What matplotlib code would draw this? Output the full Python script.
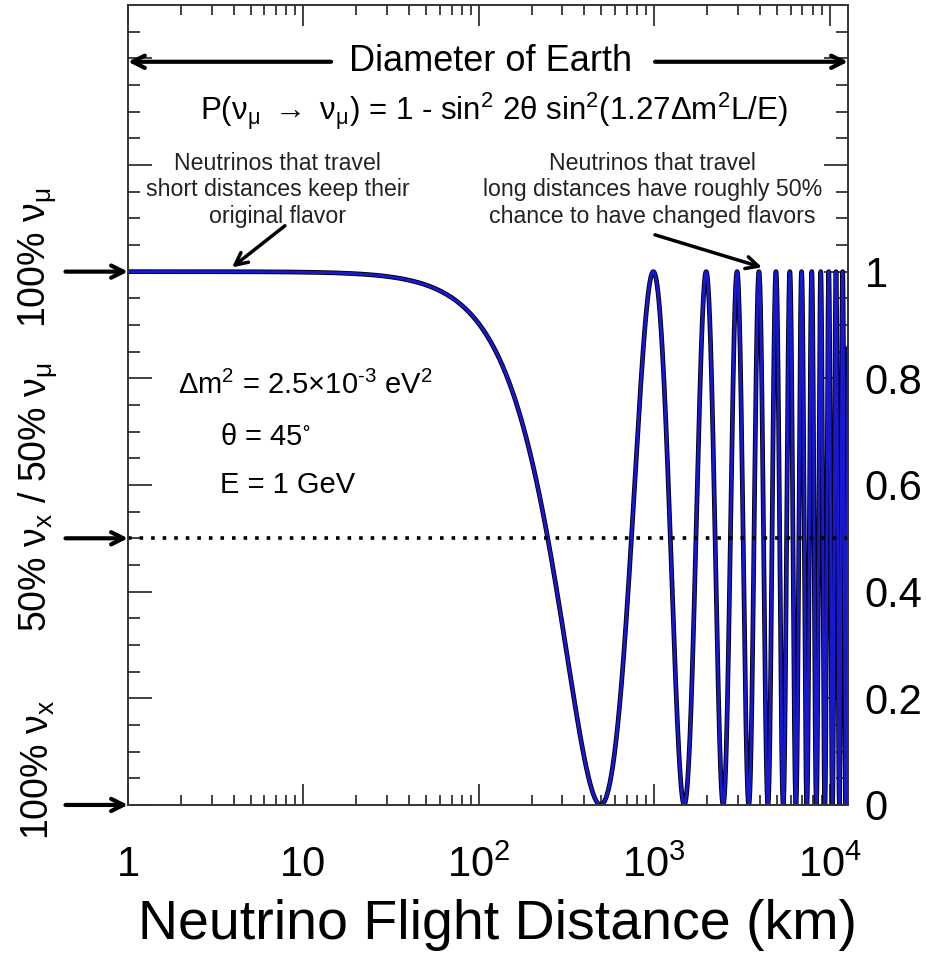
import matplotlib.pyplot as plt
import numpy as np

plt.rcParams['font.family'] = ['Liberation Sans', 'DejaVu Sans']
plt.rcParams['mathtext.fontset'] = 'custom'
plt.rcParams['mathtext.rm'] = 'Liberation Sans'
plt.rcParams['mathtext.it'] = 'Liberation Sans'
plt.rcParams['mathtext.default'] = 'regular'

# oscillation parameters printed on the chart
dm2 = 2.5e-3          # eV^2
theta_deg = 45.0      # mixing angle
energy = 1.0          # GeV
earth_diameter = 12742.0  # km

# axis ticks
x_major = [1, 10, 100, 1000, 10000]
x_labels = ['1', '10', r'$10^2$', r'$10^3$', r'$10^4$']
y_major = [0, 0.2, 0.4, 0.6, 0.8, 1.0, 1.2, 1.4]
y_labels = ['0', '0.2', '0.4', '0.6', '0.8', '1', '', '']

# flavour markers on the left
flavor_levels = [1.0, 0.5, 0.0]

# survival probability from the formula shown in the chart
L = np.logspace(0, np.log10(earth_diameter), 200000)
P = 1 - np.sin(2 * np.radians(theta_deg))**2 * np.sin(1.27 * dm2 * L / energy)**2

fig = plt.figure(figsize=(9.28, 9.56), dpi=100)
ax = fig.add_axes([0.1379, 0.158, 0.7759, 0.8368])

ax.plot(L, P, color='black', lw=3.4, solid_capstyle='butt')
ax.plot(L, P, color='#1818d0', lw=2.1)
ax.axhline(0.5, color='black', lw=2.6, linestyle=(0, (1, 2.2)))

ax.set_xscale('log')
ax.set_xlim(1, earth_diameter)
ax.set_ylim(0, 1.5)

ax.set_xticks(x_major)
ax.set_xticklabels(x_labels, fontsize=30)
ax.set_yticks(y_major)
ax.set_yticklabels(y_labels, fontsize=30)
ax.set_yticks(np.arange(0, 1.5, 0.05), minor=True)
ax.tick_params(axis='both', which='both', direction='in', top=True, right=True,
               left=True, bottom=True, color='#333333', width=1.3)
ax.tick_params(axis='y', which='both', labelleft=False, labelright=True)
ax.tick_params(axis='y', which='major', length=17, pad=12)
ax.tick_params(axis='y', which='minor', length=8.5)
ax.tick_params(axis='x', which='major', length=15, pad=29)
ax.tick_params(axis='x', which='minor', length=7.5)
for s in ax.spines.values():
    s.set_color('#333333')
    s.set_linewidth(1.4)

ax.set_xlabel('Neutrino Flight Distance (km)', fontsize=40)
ax.xaxis.set_label_coords(0.513, -0.118)

# left flavour labels and arrows
fig.text(38 / 928, 1 - 258 / 956, r'100% $\nu_\mu$', rotation=90, fontsize=27,
         ha='center', va='center')
fig.text(38 / 928, 1 - 497 / 956, r'50% $\nu_x$ / 50% $\nu_\mu$', rotation=90,
         fontsize=27, ha='center', va='center')
fig.text(38 / 928, 1 - 770 / 956, r'100% $\nu_x$', rotation=90, fontsize=27,
         ha='center', va='center')
for lev in flavor_levels:
    ax.annotate('', xy=(1, lev), xytext=(-45, 0), textcoords='offset points',
                arrowprops=dict(arrowstyle='->', lw=3, color='black',
                                mutation_scale=22, shrinkA=0, shrinkB=0),
                annotation_clip=False)

# Diameter of Earth
ax.text(0.503, 0.929, 'Diameter of Earth', transform=ax.transAxes, fontsize=26,
        ha='center', va='center')
ax.annotate('', xy=(0, 0.929), xytext=(0.282, 0.929), xycoords='axes fraction',
            arrowprops=dict(arrowstyle='->', lw=3, color='black', mutation_scale=22,
                            shrinkA=0, shrinkB=0))
ax.annotate('', xy=(1, 0.929), xytext=(0.732, 0.929), xycoords='axes fraction',
            arrowprops=dict(arrowstyle='->', lw=3, color='black', mutation_scale=22,
                            shrinkA=0, shrinkB=0))

ax.text(0.508, 0.867,
        r'P($\nu_\mu$ $\rightarrow$ $\nu_\mu$) = 1 - sin$^2$ 2θ sin$^2$(1.27Δm$^2$L/E)',
        transform=ax.transAxes, fontsize=22.5, ha='center', va='center')

ax.text(0.208, 0.769, 'Neutrinos that travel\nshort distances keep their\noriginal flavor',
        transform=ax.transAxes, fontsize=16.7, ha='center', va='center',
        linespacing=1.2, color='#222222')
ax.annotate('', xy=(3.92, 1.008), xytext=(7.85, 1.086),
            arrowprops=dict(arrowstyle='->', lw=2.5, color='black', mutation_scale=22,
                            shrinkA=0, shrinkB=0))

ax.text(0.728, 0.769,
        'Neutrinos that travel\nlong distances have roughly 50%\nchance to have changed flavors',
        transform=ax.transAxes, fontsize=16.7, ha='center', va='center',
        linespacing=1.2, color='#222222')
ax.annotate('', xy=(4120, 1.008), xytext=(1011, 1.069),
            arrowprops=dict(arrowstyle='->', lw=2.5, color='black', mutation_scale=22,
                            shrinkA=0, shrinkB=0))

# parameters
ax.text(0.246, 0.525, 'Δm$^2$ = 2.5×10$^{\u2010 3}$ eV$^2$', transform=ax.transAxes,
        fontsize=21, ha='center', va='center')
ax.text(0.190, 0.460, r'θ = 45$^{\circ}$', transform=ax.transAxes,
        fontsize=21, ha='center', va='center')
ax.text(0.221, 0.400, 'E = 1 GeV', transform=ax.transAxes,
        fontsize=21, ha='center', va='center')

fig.savefig('out.png', dpi=100)
